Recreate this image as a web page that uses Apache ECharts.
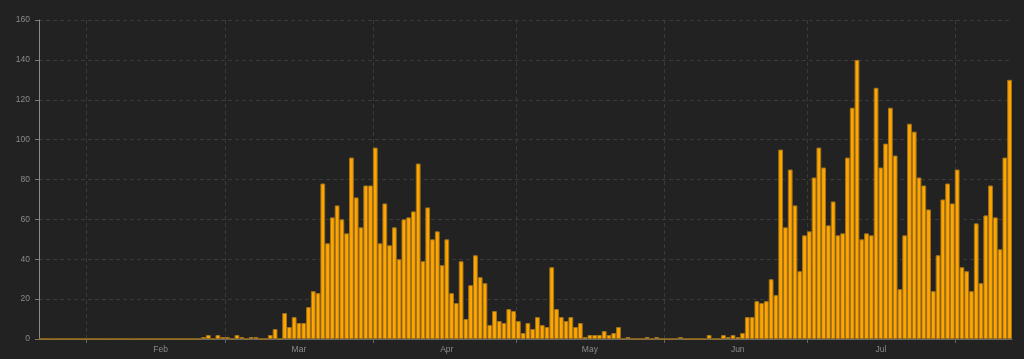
<!DOCTYPE html>
<html>
<head>
<meta charset="utf-8">
<script src="https://cdn.jsdelivr.net/npm/echarts@6/dist/echarts.min.js"></script>
<style>
html,body{margin:0;padding:0;background:#222222;}
#chart{width:1024px;height:359px;}
</style>
</head>
<body>
<div id="chart"></div>
<script>
// Daily values, starting 2020-01-22
var startDate = [2020, 0, 22];
var dailyValues = [
  0,0,0,0,0,0,0,0,0,0, 0,0,0,0,0,0,0,0,0,0, 0,0,0,0,0,0,0,0,0,0, 0,0,0,0,
  1,2,0,2,1,1,0,2,1,0,1,1,0,0,2,5,0,
  13,6,11,8,8,16,24,23,78,48,61,67,60,53,91,71,56,77,77,
  96,48,68,47,56,40,60,61,64,88,39,66,50,54,37,50,23,18,39,10,27,42,31,28,7,14,9,8,15,14,
  9,3,8,5,11,7,6,36,15,11,9,11,6,8,1,2,2,2,4,2,3,6,0,1,0,0,0,1,0,1,0,
  0,0,0,1,0,0,0,0,0,2,0,0,2,1,2,1,3,11,11,19,18,19,30,22,95,56,85,67,34,52,
  54,81,96,86,57,69,52,53,91,116,140,50,53,52,126,86,98,116,92,25,52,108,104,81,77,65,24,42,70,78,68,
  85,36,34,24,58,28,62,77,61,45,91,130
];
var monthNames = ['Jan','Feb','Mar','Apr','May','Jun','Jul','Aug','Sep','Oct','Nov','Dec'];
var yTicks = [0,20,40,60,80,100,120,140,160];

// day categories (one per value) and day boundaries (one more than values)
function dateStr(k) {
  var d = new Date(startDate[0], startDate[1], startDate[2] + k);
  return d.getFullYear() + '-' + (d.getMonth() + 1) + '-' + d.getDate();
}
var categories = [];
for (var k = 0; k < dailyValues.length; k++) categories.push(dateStr(k));
var boundaries = [];
for (var b = 0; b <= dailyValues.length; b++) boundaries.push(dateStr(b));
function dayOf(v){ return +v.split('-')[2]; }
function monthOf(v){ return +v.split('-')[1] - 1; }

var labelFont = {color: '#8a8a8a', fontSize: 8.5, fontFamily: 'Liberation Sans, Arial, sans-serif'};
var chart = echarts.init(document.getElementById('chart'), null, {renderer:'canvas'});
chart.setOption({
  backgroundColor: '#222222',
  animation: false,
  grid: {left: 39, right: 12, top: 20, bottom: 20},
  xAxis: [{
    type: 'category',
    data: categories,
    boundaryGap: true,
    position: 'bottom',
    axisLine: {show: true, lineStyle: {color: '#6a6a6a', width: 1}},
    axisTick: {show: false},
    splitLine: {show: false},
    axisLabel: Object.assign({
      interval: function (i, v) { return dayOf(v) === 16; },
      formatter: function (v) { return monthNames[monthOf(v)]; },
      margin: 6
    }, labelFont)
  }, {
    type: 'category',
    data: boundaries,
    boundaryGap: false,
    position: 'bottom',
    axisLine: {show: false},
    axisLabel: {show: false},
    axisTick: {
      show: true, length: 4,
      interval: function (i, v) { return dayOf(v) === 1; },
      lineStyle: {color: '#666'}
    },
    splitLine: {
      show: true,
      interval: function (i, v) { return dayOf(v) === 1; },
      lineStyle: {color: '#3a3a3a', type: [4, 3], width: 1}
    }
  }],
  yAxis: {
    type: 'value',
    min: yTicks[0], max: yTicks[yTicks.length - 1], interval: 20,
    axisLine: {show: true, lineStyle: {color: '#8a8a8a', width: 1}},
    axisTick: {show: true, length: 4, lineStyle: {color: '#777'}},
    splitLine: {show: true, lineStyle: {color: '#3a3a3a', type: [4, 3], width: 1}},
    axisLabel: Object.assign({margin: 9}, labelFont)
  },
  series: [{
    type: 'bar',
    xAxisIndex: 0,
    data: dailyValues,
    barCategoryGap: '0%',
    itemStyle: {color: '#FFA500', borderColor: '#a2741c', borderWidth: 1}
  }]
});
</script>
</body>
</html>
